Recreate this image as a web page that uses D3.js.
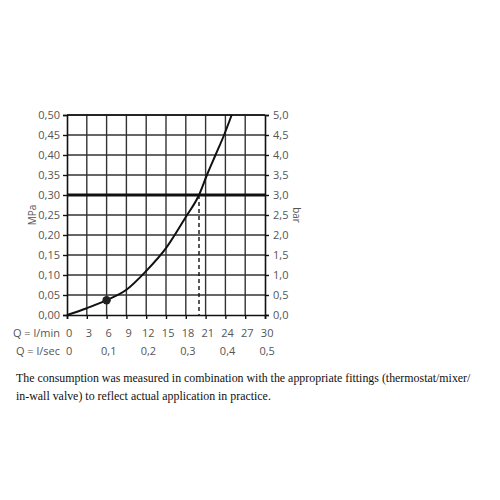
<!DOCTYPE html>
<html><head><meta charset="utf-8">
<script src="https://cdn.jsdelivr.net/npm/d3@7"></script>
<style>body{margin:0;background:#fff}svg{display:block}</style>
</head><body>
<script>
const flowLmin = [0, 3, 6, 9, 12, 15, 18, 20, 21.2, 22.5, 23.8, 24.95];
const pressureMPa = [0, 0.017, 0.037, 0.063, 0.11, 0.167, 0.245, 0.30, 0.35, 0.40, 0.45, 0.50];
const markerPoint = [6, 0.037];
const refPressure = 0.30;
const refFlow = 20;
const xTicksLmin = [0, 3, 6, 9, 12, 15, 18, 21, 24, 27, 30];
const xTicksLsec = [0, 0.1, 0.2, 0.3, 0.4, 0.5];
const yTicksMPa = [0, 0.05, 0.10, 0.15, 0.20, 0.25, 0.30, 0.35, 0.40, 0.45, 0.50];
const captionLines = [
  "The consumption was measured in combination with the appropriate fittings (thermostat/mixer/",
  "in-wall valve) to reflect actual application in practice."
];

const svg = d3.select("body").append("svg").attr("width", 500).attr("height", 500);
const x = d3.scaleLinear().domain([0, 30]).range([67, 265]);
const y = d3.scaleLinear().domain([0, 0.5]).range([315, 115]);
const fmt = (v, d) => v.toFixed(d).replace(".", ",");
const font = "'Open Sans', 'DejaVu Sans', sans-serif";
const txtCol = "#555";

// grid
svg.append("g").selectAll("line").data(xTicksLmin.slice(1, -1)).join("line")
  .attr("x1", d => x(d)).attr("x2", d => x(d)).attr("y1", y(0)).attr("y2", y(0.5))
  .attr("stroke", "#333").attr("stroke-width", 1.4);
svg.append("g").selectAll("line").data(yTicksMPa.slice(1)).join("line")
  .attr("x1", x(0)).attr("x2", x(30)).attr("y1", d => y(d)).attr("y2", d => y(d))
  .attr("stroke", "#333").attr("stroke-width", 1.4);

// axes
const left = svg.append("g").attr("transform", `translate(${x(0)},0)`)
  .call(d3.axisLeft(y).tickValues(yTicksMPa).tickSize(4).tickPadding(3).tickFormat(d => fmt(d, 2)));
const right = svg.append("g").attr("transform", `translate(${x(30)},0)`)
  .call(d3.axisRight(y).tickValues(yTicksMPa).tickSize(4).tickPadding(4).tickFormat(d => fmt(d * 10, 1)));
const bottom = svg.append("g").attr("transform", `translate(0,${y(0)})`)
  .call(d3.axisBottom(x).tickValues(xTicksLmin).tickSize(4).tickPadding(10).tickFormat(d => d));
const bottom2 = svg.append("g").attr("transform", `translate(0,${y(0) + 26})`)
  .call(d3.axisBottom(x).tickValues(xTicksLsec.map(v => v * 60)).tickSize(0).tickPadding(6)
    .tickFormat(d => d === 0 ? "0" : fmt(d / 60, 1)));
bottom2.select(".domain").remove();
[left, right, bottom, bottom2].forEach(g => {
  g.selectAll(".domain").attr("stroke", "#111").attr("stroke-width", 1.6);
  g.selectAll(".tick line").attr("stroke", "#111").attr("stroke-width", 1.4);
  g.selectAll("text").attr("font-family", font).attr("font-size", 11).attr("fill", txtCol);
});
bottom.selectAll(".tick text").attr("dx", "0.15em");
bottom2.selectAll(".tick text").attr("dx", "0.15em");
// top border
svg.append("line").attr("x1", x(0)).attr("x2", x(30)).attr("y1", y(0.5)).attr("y2", y(0.5))
  .attr("stroke", "#111").attr("stroke-width", 1.6);

// row labels
svg.append("text").attr("x", 60).attr("y", y(0) + 22).attr("text-anchor", "end")
  .attr("font-family", font).attr("font-size", 11).attr("fill", txtCol).text("Q = l/min");
svg.append("text").attr("x", 60).attr("y", y(0) + 40).attr("text-anchor", "end")
  .attr("font-family", font).attr("font-size", 11).attr("fill", txtCol).text("Q = l/sec");

// axis titles
svg.append("text").attr("transform", `translate(36,${y(0.25)}) rotate(-90)`).attr("text-anchor", "middle")
  .attr("font-family", font).attr("font-size", 10).attr("fill", txtCol).text("MPa");
svg.append("text").attr("transform", `translate(293,${y(0.25)}) rotate(90)`).attr("text-anchor", "middle")
  .attr("font-family", font).attr("font-size", 10).attr("fill", txtCol).text("bar");

// reference lines
svg.append("line").attr("x1", x(0)).attr("x2", x(30)).attr("y1", y(refPressure)).attr("y2", y(refPressure))
  .attr("stroke", "#111").attr("stroke-width", 3.2);
svg.append("line").attr("x1", x(refFlow)).attr("x2", x(refFlow)).attr("y1", y(refPressure)).attr("y2", y(0))
  .attr("stroke", "#111").attr("stroke-width", 1.4).attr("stroke-dasharray", "4,3");

// curve
const pts = flowLmin.map((f, i) => [f, pressureMPa[i]]);
svg.append("path").datum(pts)
  .attr("d", d3.line().x(d => x(d[0])).y(d => y(d[1])).curve(d3.curveMonotoneX))
  .attr("fill", "none").attr("stroke", "#111").attr("stroke-width", 2);
svg.append("circle").attr("cx", x(markerPoint[0])).attr("cy", y(markerPoint[1])).attr("r", 4.2).attr("fill", "#222");

// caption
svg.append("g").selectAll("text").data(captionLines).join("text")
  .attr("x", 16).attr("y", (d, i) => 382 + i * 18)
  .attr("font-family", "'Liberation Serif', 'Times New Roman', serif").attr("font-size", 11.9).attr("fill", "#111")
  .text(d => d);
</script>
</body></html>
